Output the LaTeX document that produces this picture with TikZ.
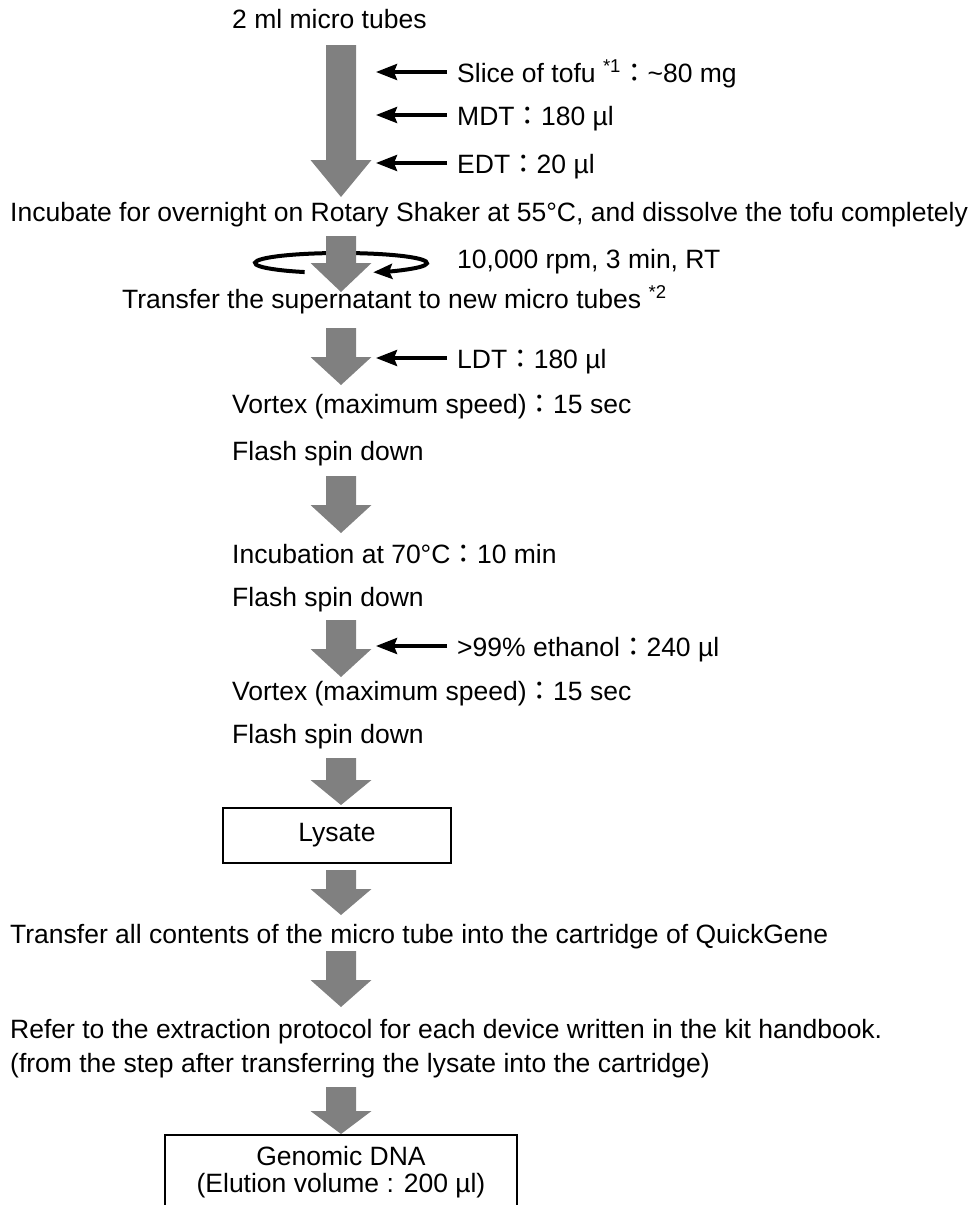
\documentclass[tikz,border=0pt]{standalone}
\usepackage{fontspec}
\setmainfont{Liberation Sans}
\newfontfamily\cjk{Noto Sans CJK JP}
\usetikzlibrary{arrows.meta}
\definecolor{flowgray}{RGB}{128,128,128}
\newcommand{\fw}{{\cjk ：}}
\tikzstyle{txt} = [anchor=base west, inner sep=0pt, font=\fontsize{26.5}{32}\selectfont]
\tikzstyle{feed} = [-{Stealth[length=21pt,width=16pt,inset=3pt]}, line width=3.5pt]
\tikzstyle{boxed} = [draw, line width=1.6pt, inner sep=0pt, align=center, font=\fontsize{26.5}{27}\selectfont]
\tikzstyle{flow} = [fill=flowgray]
\newcommand{\flowarrow}[3]{%
  \fill[flow] (326,#1) -- (356,#1) -- (356,#2) -- (371.5,#2) -- (341,#3) -- (310.5,#2) -- (326,#2) -- cycle;}

\begin{document}
\begin{tikzpicture}[x=1pt,y=-1pt]
  \useasboundingbox (0,0) rectangle (976,1205);
  \clip (0,0) rectangle (976,1205);

  \node[txt] (tubes) at (232,28) {2 ml micro tubes};
  \node[txt] (slice) at (457,82) {Slice of tofu \textsuperscript{*1}\fw\textasciitilde80 mg};
  \node[txt] (mdt) at (457,125) {MDT\fw 180 µl};
  \node[txt] (edt) at (457,173) {EDT\fw 20 µl};
  \node[txt] (incub) at (10,221) {Incubate for overnight on Rotary Shaker at 55°C, and dissolve the tofu completely};
  \node[txt] (spin) at (457,268) {10,000 rpm, 3 min, RT};
  \node[txt] (super) at (122,308) {Transfer the supernatant to new micro tubes \textsuperscript{*2}};
  \node[txt] (ldt) at (457,368) {LDT\fw 180 µl};
  \node[txt] (vortex_eins) at (232,413) {Vortex (maximum speed)\fw 15 sec};
  \node[txt] (flash_eins) at (232,460) {Flash spin down};
  \node[txt] (heat) at (232,563) {Incubation at 70°C\fw 10 min};
  \node[txt] (flash_zwei) at (232,606) {Flash spin down};
  \node[txt] (eth) at (457,656) {>99\% ethanol\fw 240 µl};
  \node[txt] (vortex_zwei) at (232,700) {Vortex (maximum speed)\fw 15 sec};
  \node[txt] (flash_drei) at (232,743) {Flash spin down};
  \node[boxed, minimum width=228pt, minimum height=55pt] (lysate) at (337,835.5) {Lysate};
  \node[txt] (cart) at (10,943) {Transfer all contents of the micro tube into the cartridge of QuickGene};
  \node[txt] (refer) at (10,1038) {Refer to the extraction protocol for each device written in the kit handbook.};
  \node[txt] (after) at (10,1072) {(from the step after transferring the lysate into the cartridge)};
  \node[boxed, minimum width=352pt, minimum height=75pt] (dna) at (341,1172.5) {Genomic DNA\\(Elution volume : 200 µl)};

  \coordinate (in_slice) at (376,72);
  \coordinate (in_mdt) at (376,115);
  \coordinate (in_edt) at (376,163);
  \coordinate (in_ldt) at (376,358);
  \coordinate (in_eth) at (376,646);
  \coordinate (rot) at (341,263);

  \flowarrow{45}{160}{197}
  \draw[line width=4pt, -{Stealth[length=19pt,width=15pt,inset=3pt]}] ([shift={(245:86pt and 10pt)}]rot)
    arc[start angle=245, end angle=-68, x radius=86pt, y radius=10pt];
  \flowarrow{236}{263}{292}
  \flowarrow{328}{357}{385}
  \flowarrow{476}{505}{533}
  \flowarrow{620}{649}{677}
  \flowarrow{758}{780}{805}
  \flowarrow{870}{889}{915}
  \flowarrow{951}{980}{1007}
  \flowarrow{1087}{1111}{1134}

  \draw[feed] ([shift={(-10,-10)}]slice.base west) -- (in_slice);
  \draw[feed] ([shift={(-10,-10)}]mdt.base west) -- (in_mdt);
  \draw[feed] ([shift={(-10,-10)}]edt.base west) -- (in_edt);
  \draw[feed] ([shift={(-10,-10)}]ldt.base west) -- (in_ldt);
  \draw[feed] ([shift={(-10,-10)}]eth.base west) -- (in_eth);
\end{tikzpicture}
\end{document}
